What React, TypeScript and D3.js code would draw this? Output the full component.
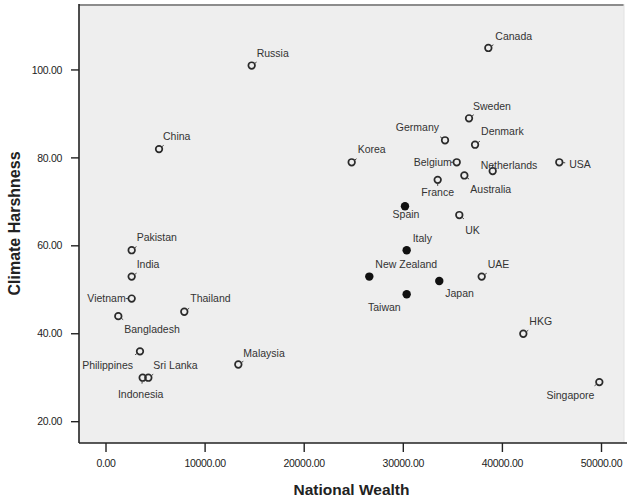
import React from "react";
import * as d3 from "d3";

const countries = ["Canada","Russia","Sweden","Germany","Denmark","China","Korea","Belgium","USA","Netherlands","Australia","France","Spain","UK","Pakistan","Italy","India","New Zealand","UAE","Japan","Taiwan","Vietnam","Thailand","Bangladesh","HKG","Philippines","Malaysia","Sri Lanka","Indonesia","Singapore"];
const wealth = [38580,14700,36630,34210,37240,5350,24790,35390,45740,39020,36160,33470,30170,35650,2590,30340,2590,26570,37910,33630,30340,2590,7900,1240,42110,3430,13350,4270,3700,49780];
const harshness = [105,101,89,84,83,82,79,79,79,77,76,75,69,67,59,59,53,53,53,52,49,48,45,44,40,36,33,30,30,29];
const filledGroup = ["Spain","Italy","New Zealand","Japan","Taiwan"];
const xTicks = [0,10000,20000,30000,40000,50000];
const yTicks = [20,40,60,80,100];
const xTitle = "National Wealth";
const yTitle = "Climate Harshness";

// label layout: [dx, dy, anchor]
const labelPlacement: Record<string, [number, number, string]> = {
  "Canada": [7,-12,"start"], "Russia": [5,-12,"start"], "Sweden": [4,-12,"start"],
  "Germany": [-6,-13,"end"], "Denmark": [6,-13,"start"], "China": [4,-13,"start"],
  "Korea": [6,-13,"start"], "Belgium": [-5,0,"end"], "USA": [10,2,"start"],
  "Netherlands": [-12,-6,"start"], "Australia": [6,14,"start"], "France": [0,12.5,"middle"],
  "Spain": [1,8,"middle"], "UK": [6,15,"start"], "Pakistan": [5,-13,"start"],
  "Italy": [6,-12,"start"], "India": [5,-12,"start"], "New Zealand": [6,-12,"start"],
  "UAE": [6,-12,"start"], "Japan": [6,12,"start"], "Taiwan": [-6,13,"end"],
  "Vietnam": [-6,0,"end"], "Thailand": [6,-13,"start"], "Bangladesh": [6,13,"start"],
  "HKG": [6,-12.5,"start"], "Philippines": [-7,13.5,"start-end"], "Malaysia": [5,-11,"start"],
  "Sri Lanka": [5,-12,"start"], "Indonesia": [-2,17,"middle"], "Singapore": [-5,13,"end"],
};

const W = 627, H = 500;
const left = 79, right = 624, top = 4, bottom = 443;

export default function App() {
  const x = d3.scaleLinear().domain([-2725, 52270]).range([left, right]);
  const y = d3.scaleLinear().domain([15.15, 115]).range([bottom, top]);
  const font = "'Liberation Sans', Arial, sans-serif";
  const pts = countries.map((c, i) => ({ c, x: x(wealth[i]), y: y(harshness[i]), filled: filledGroup.includes(c) }));
  return (
    <svg width={W} height={H} style={{ position: "absolute", left: 0, top: 0, background: "#fff" }} fontFamily={font}>
      <rect x={left} y={top} width={right - left} height={bottom - top} fill="#eeeeee" />
      <line x1={left} x2={right} y1={top + 1} y2={top + 1} stroke="#8c8c8c" strokeWidth={2} />
      <line x1={right} x2={right} y1={top} y2={bottom} stroke="#e2e2e2" strokeWidth={1} />
      <line x1={left} x2={left} y1={top} y2={bottom} stroke="#222" strokeWidth={1.6} />
      <line x1={left} x2={W} y1={bottom} y2={bottom} stroke="#222" strokeWidth={1.6} />
      {yTicks.map(t => (
        <g key={"y" + t}>
          <line x1={left - 8} x2={left} y1={y(t)} y2={y(t)} stroke="#222" strokeWidth={1.4} />
          <text x={62} y={y(t)} dy="0.35em" textAnchor="end" fontSize={10.5} fill="#222" letterSpacing={-0.3}>{d3.format(".2f")(t)}</text>
        </g>
      ))}
      {xTicks.map(t => (
        <g key={"x" + t}>
          <line x1={x(t)} x2={x(t)} y1={bottom} y2={bottom + 9} stroke="#222" strokeWidth={1.4} />
          <text x={x(t)} y={463} dy="0.35em" textAnchor="middle" fontSize={10.5} fill="#222" letterSpacing={-0.3}>{d3.format(".2f")(t)}</text>
        </g>
      ))}
      <text x={(left + right) / 2} y={490} dy="0.35em" textAnchor="middle" fontSize={15.5} fontWeight="bold" fill="#222">{xTitle}</text>
      <text transform={`translate(14,${(top + bottom) / 2}) rotate(-90)`} dy="0.35em" textAnchor="middle" fontSize={16} fontWeight="bold" fill="#222">{yTitle}</text>
      {pts.map(p => {
        const [dx, dy, anchorRaw] = labelPlacement[p.c];
        const anchor = anchorRaw === "start-end" ? "end" : anchorRaw;
        // leader tick toward label
        const ang = Math.atan2(dy, dx + (anchor === "start" ? 12 : anchor === "end" ? -12 : 0));
        return (
          <g key={p.c}>
            {p.filled ? (
              <circle cx={p.x} cy={p.y} r={4.2} fill="#111" />
            ) : (
              <g>
                <circle cx={p.x} cy={p.y} r={3.3} fill="none" stroke="#2a2a2a" strokeWidth={1.7} />
                <line x1={p.x + Math.cos(ang) * 3.5} y1={p.y + Math.sin(ang) * 3.5} x2={p.x + Math.cos(ang) * 6} y2={p.y + Math.sin(ang) * 6} stroke="#444" strokeWidth={1} />
              </g>
            )}
            <text x={p.x + dx} y={p.y + dy} dy="0.35em" textAnchor={anchor} fontSize={10.5} fill="#333">{p.c}</text>
          </g>
        );
      })}
    </svg>
  );
}
